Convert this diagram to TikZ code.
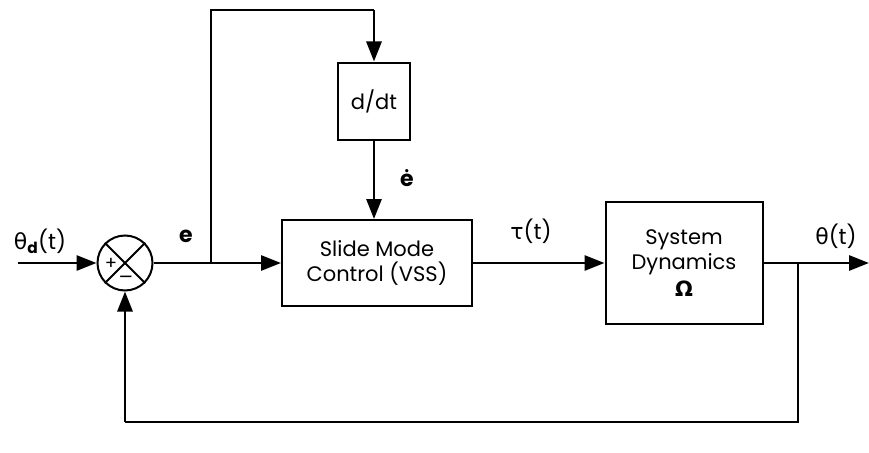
\documentclass[tikz,border=0pt]{standalone}
\usepackage{fontspec}
\setmainfont{Poppins}
\newfontfamily\gr{DejaVu Sans}
\usetikzlibrary{arrows.meta}
\tikzset{
  line/.style={line width=2.8pt},
  arr/.style={line width=2.8pt,-{Triangle[length=20pt,width=15pt]}},
  blk/.style={draw,line width=2pt,inner sep=0pt,align=center,font=\fontsize{21}{25}\selectfont},
  lbl/.style={font=\fontsize{22}{24}\selectfont},
}
\begin{document}
\begin{tikzpicture}[x=1pt,y=-1pt]
\useasboundingbox[fill=white] (0,0) rectangle (869,452);
% blocks
\node[blk,circle,minimum size=55pt] (sum) at (125,263) {};
\draw[line width=1.8pt] (sum.45) -- (sum.225) (sum.135) -- (sum.315);
\node[font=\fontsize{18}{18}\selectfont] at (111,264) {+};
\node[font=\fontsize{18}{18}\selectfont] at (126,279) {\gr −};
\node[blk,minimum width=72pt,minimum height=77pt] (ddt) at (374,101) {d/dt};
\node[blk,minimum width=190pt,minimum height=86pt] (smc) at (377,263) {Slide Mode\\Control (VSS)};
\node[blk,minimum width=157pt,minimum height=122pt] (sys) at (684,263) {System\\Dynamics\\[2pt]{\gr\bfseries Ω}};
% coordinates
\coordinate (in) at (18,263);
\coordinate (br) at (211,263);
\coordinate (top) at (211,10);
\coordinate (topr) at (374,10);
\coordinate (out) at (869,263);
\coordinate (fb) at (798,263);
\coordinate (fbd) at (798,422);
\coordinate (fbl) at (125,422);
% connectors
\draw[arr] (in) -- (sum.west);
\draw[line] (sum.east) -- (br);
\draw[arr] (br) -- (smc.west);
\draw[line] (br) -- (top) -- (topr);
\draw[arr] (topr) -- (ddt.north);
\draw[arr] (ddt.south) -- (ddt.south |- smc.north);
\draw[arr] (smc.east) -- (sys.west);
\draw[arr] (sys.east) -- (out);
\draw[line] (fb) -- (fbd) -- (fbl);
\draw[arr] (fbl) -- (sum.south);
% labels
\node[lbl] at (40,241) {{\gr θ}\textsubscript{\bfseries d}(t)};
\node[lbl,font=\fontsize{22}{24}\bfseries] at (186,236) {e};
\node[lbl,font=\fontsize{22}{24}\bfseries] at (407,178) {ė};
\node[lbl] at (531,231) {{\gr τ}(t)};
\node[lbl] at (836,236) {{\gr θ}(t)};
\end{tikzpicture}
\end{document}
